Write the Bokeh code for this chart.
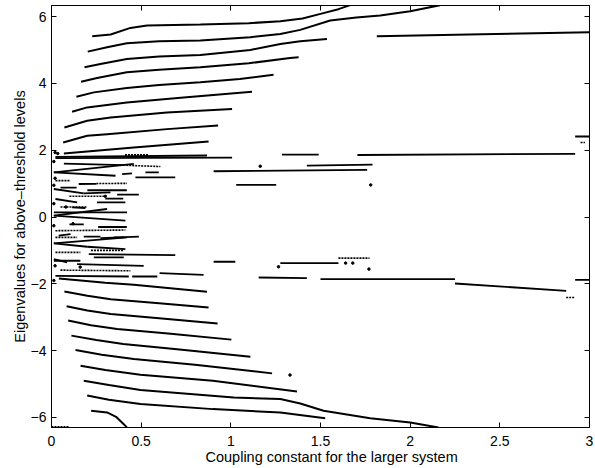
from bokeh.plotting import figure
from bokeh.models import LinearAxis, FixedTicker, Range1d, ColumnDataSource, Title
from bokeh.embed import file_html
from bokeh.resources import INLINE

# ---- data ----
x_ticks = [0, 0.5, 1, 1.5, 2, 2.5, 3]
y_ticks = [-6, -4, -2, 0, 2, 4, 6]

# smooth eigenvalue branches (upper set)
upper_x = [
    [0.227, 0.33, 0.44, 0.533, 0.83, 1.10, 1.276, 1.40, 1.50, 1.60, 1.666],
    [0.202, 0.31, 0.42, 0.60, 0.83, 1.109, 1.276, 1.387, 1.554, 1.70, 1.833, 2.0, 2.167],
    [0.184, 0.273, 0.42, 0.60, 0.83, 1.109, 1.276, 1.387, 1.536],
    [0.165, 0.254, 0.42, 0.60, 0.83, 1.10, 1.33, 1.378],
    [0.139, 0.236, 0.42, 0.60, 0.83, 1.05, 1.238],
    [0.115, 0.199, 0.42, 0.737, 1.118],
    [0.072, 0.199, 0.33, 0.644, 1.007],
    [0.065, 0.199, 0.31, 0.644, 0.929],
    [0.069, 0.459, 0.876],
    [1.814, 2.4, 3.0],
]
upper_y = [
    [5.41, 5.46, 5.66, 5.73, 5.76, 5.80, 5.86, 5.94, 6.08, 6.22, 6.34],
    [4.95, 5.08, 5.20, 5.26, 5.28, 5.38, 5.48, 5.60, 5.88, 5.97, 6.03, 6.16, 6.34],
    [4.48, 4.58, 4.73, 4.80, 4.85, 5.00, 5.18, 5.26, 5.33],
    [4.05, 4.16, 4.33, 4.41, 4.48, 4.60, 4.76, 4.78],
    [3.60, 3.73, 3.86, 3.95, 4.03, 4.13, 4.26],
    [3.15, 3.28, 3.43, 3.58, 3.75],
    [2.68, 2.88, 2.98, 3.13, 3.23],
    [2.23, 2.43, 2.48, 2.63, 2.74],
    [1.90, 2.08, 2.26],
    [5.41, 5.47, 5.53],
]

# smooth eigenvalue branches (lower set)
lower_x = [
    [0.041, 0.30, 0.459, 0.867],
    [0.072, 0.20, 0.33, 0.60, 0.876],
    [0.084, 0.20, 0.33, 0.60, 0.926],
    [0.093, 0.22, 0.366, 0.65, 1.003],
    [0.111, 0.25, 0.40, 0.70, 1.109],
    [0.134, 0.28, 0.459, 0.80, 1.23],
    [0.162, 0.30, 0.496, 0.90, 1.369],
    [0.18, 0.32, 0.496, 1.016, 1.276, 1.387, 1.517, 1.777, 2.0, 2.158],
    [0.199, 0.32, 0.496, 0.90, 1.276, 1.526],
    [0.221, 0.31, 0.36, 0.403, 0.42],
]
lower_y = [
    [-1.84, -1.97, -2.03, -2.24],
    [-2.23, -2.36, -2.46, -2.58, -2.71],
    [-2.67, -2.80, -2.90, -3.03, -3.19],
    [-3.10, -3.24, -3.35, -3.49, -3.67],
    [-3.55, -3.68, -3.80, -3.96, -4.18],
    [-3.98, -4.12, -4.25, -4.42, -4.68],
    [-4.45, -4.58, -4.72, -4.90, -5.22],
    [-4.90, -5.03, -5.18, -5.40, -5.45, -5.58, -5.80, -6.02, -6.15, -6.30],
    [-5.34, -5.47, -5.60, -5.75, -5.85, -6.02],
    [-5.80, -5.85, -5.98, -6.20, -6.30],
]

# short, broken level pieces (solid)
seg_x0 = [0.022, 0.022, 0.069, 0.013, 0.013, 0.394, 0.524, 0.468, 0.013, 0.18, 0.366,
          0.022, 0.254, 0.115, 0.013, 0.013, 0.013, 0.04, 0.273, 0.18, 0.35, 0.013,
          0.013, 0.199, 0.208, 0.013, 0.013, 0.236, 0.143, 0.022, 0.45,
          0.904, 1.276, 0.603, 1.155, 1.5, 2.25, 2.92,
          1.285, 1.706, 2.92, 1.424, 0.904, 1.03, 0.152,
          0.05, 0.20, 0.30, 0.10, 0.26]
seg_y0 = [1.80, 1.76, 1.60, 1.335, 1.335, 1.285, 1.335, 1.188, 0.838, 0.709, 0.669,
          0.539, 0.439, 0.289, 0.14, 0.04, 0.04, -0.56, -0.63, -0.59, -0.61, -0.79,
          -0.79, -0.89, -1.11, -1.26, -1.31, -1.21, -1.41, -1.76, -1.78,
          -1.34, -1.38, -1.68, -1.81, -1.86, -1.99, -1.88,
          1.865, 1.855, 2.41, 1.54, 1.37, 0.96, 0.988,
          0.88, 0.80, 0.55, -0.22, -0.30]
seg_x1 = [0.867, 1.007, 0.40, 0.459, 0.357, 0.449, 0.598, 0.69, 0.18, 0.329, 0.487,
          0.143, 0.412, 0.189, 0.421, 0.31, 0.412, 0.106, 0.487, 0.273, 0.405, 0.421,
          0.199, 0.412, 0.69, 0.087, 0.161, 0.403, 0.514, 0.431, 0.59,
          1.025, 1.60, 0.848, 1.424, 2.25, 2.87, 3.0,
          1.49, 2.92, 3.0, 1.79, 1.76, 1.253, 0.25,
          0.14, 0.42, 0.40, 0.18, 0.42]
seg_y1 = [1.84, 1.78, 1.55, 1.59, 1.235, 1.305, 1.335, 1.188, 0.709, 0.739, 0.669,
          0.439, 0.439, 0.269, 0.14, 0.24, -0.11, -0.51, -0.59, -0.59, -0.61, -0.61,
          -0.89, -0.96, -1.14, -1.36, -1.31, -1.21, -1.46, -1.78, -1.78,
          -1.34, -1.38, -1.73, -1.83, -1.86, -2.21, -1.88,
          1.865, 1.89, 2.41, 1.57, 1.41, 0.96, 0.99,
          0.88, 0.80, 0.55, -0.22, -0.30]

# dotted / speckled level pieces
dot_seg_x0 = [0.40, 0.41, 0.022, 0.25, 0.022, 0.022, 0.022, 0.05, 1.60, 2.87, 0.0, 2.95,
              0.10, 0.05, 0.22]
dot_seg_y0 = [1.55, 1.86, 1.088, 1.0, -0.41, -0.61, -1.06, -1.59, -1.23, -2.41, -6.28, 2.23,
              0.62, 0.30, -1.00]
dot_seg_x1 = [0.607, 0.54, 0.106, 0.421, 0.412, 0.143, 0.161, 0.44, 1.773, 2.92, 0.1, 2.975,
              0.30, 0.20, 0.40]
dot_seg_y1 = [1.51, 1.86, 1.088, 1.008, -0.39, -0.61, -1.06, -1.61, -1.23, -2.41, -6.28, 2.23,
              0.62, 0.30, -1.00]

# isolated points
pt_x = [1.164, 1.78, 1.33, 1.266, 1.64, 1.68, 1.77, 0.02, 0.035, 0.013, 0.02, 0.013,
        0.013, 0.013, 0.02, 0.013, 0.08, 0.12, 0.16, 0.30]
pt_y = [1.52, 0.96, -4.73, -1.49, -1.38, -1.38, -1.56, 1.93, 1.90, 1.66, 1.16, 0.95,
        0.40, -0.26, -1.46, -1.90, 0.30, -0.20, -1.50, 0.62]

x_title = "Coupling constant for the larger system"
y_title = "Eigenvalues for above\u2013threshold levels"

# ---- figure ----
p = figure(width=595, height=468, x_range=Range1d(0, 3), y_range=Range1d(-6.3, 6.33),
           output_backend="svg", toolbar_location=None,
           min_border_left=51, min_border_right=6, min_border_top=5, min_border_bottom=41)
p.background_fill_color = "white"
p.border_fill_color = "white"
p.outline_line_color = "black"
p.outline_line_width = 1
p.grid.visible = False

FONT = "Liberation Sans"
for ax in (p.xaxis[0], p.yaxis[0]):
    ax.major_tick_in = 5
    ax.major_tick_out = 0
    ax.minor_tick_line_color = None
    ax.axis_line_color = "black"
    ax.major_tick_line_color = "black"
    ax.major_label_text_font = FONT
    ax.major_label_text_font_size = "14px"
    ax.major_label_text_color = "black"
    ax.axis_label_text_font = FONT
    ax.axis_label_text_font_size = "14.5px"
    ax.axis_label_text_font_style = "normal"
    ax.axis_label_text_color = "black"

p.xaxis[0].ticker = FixedTicker(ticks=x_ticks)
p.yaxis[0].ticker = FixedTicker(ticks=y_ticks)
p.yaxis[0].axis_label = y_title
p.xaxis[0].major_label_standoff = 8
p.yaxis[0].major_label_standoff = 5
p.yaxis[0].axis_label_standoff = 0

for ticks, side in ((x_ticks, "above"), (y_ticks, "right")):
    ax = LinearAxis(ticker=FixedTicker(ticks=ticks),
                    major_label_overrides={t: "" for t in ticks},
                    major_label_text_font_size="1px",
                    major_tick_in=5, major_tick_out=0, minor_tick_line_color=None,
                    axis_line_color=None, major_label_standoff=0)
    p.add_layout(ax, side)

xt = Title(text=x_title, align="left", offset=154, text_font=FONT,
           text_font_size="14.5px", text_font_style="normal", text_color="black",
           standoff=-4)
p.add_layout(xt, "below")

p.multi_line(xs=upper_x, ys=upper_y, line_color="black", line_width=2)
p.multi_line(xs=lower_x, ys=lower_y, line_color="black", line_width=2)

src = ColumnDataSource(dict(x0=seg_x0, y0=seg_y0, x1=seg_x1, y1=seg_y1))
p.segment(x0="x0", y0="y0", x1="x1", y1="y1", source=src, line_color="black", line_width=1.8)

dsrc = ColumnDataSource(dict(x0=dot_seg_x0, y0=dot_seg_y0, x1=dot_seg_x1, y1=dot_seg_y1))
p.segment(x0="x0", y0="y0", x1="x1", y1="y1", source=dsrc, line_color="black",
          line_width=1.6, line_dash="2 1")

p.scatter(pt_x, pt_y, size=2.5, color="black")

open("out.html", "w").write(file_html(p, INLINE))
